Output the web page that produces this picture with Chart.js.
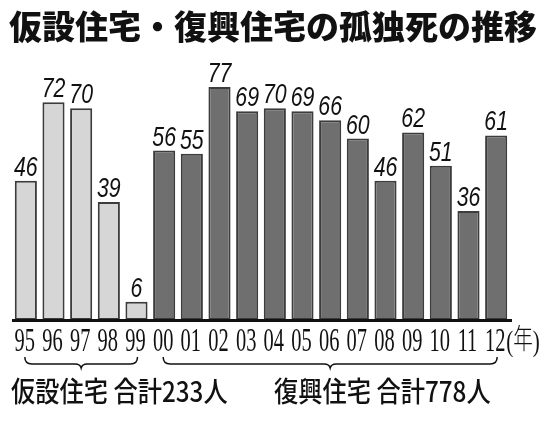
<!DOCTYPE html>
<html lang="ja">
<head>
<meta charset="utf-8">
<script src="https://cdn.jsdelivr.net/npm/chart.js@4.4.1/dist/chart.umd.min.js"></script>
<style>
  html, body { margin: 0; padding: 0; background: #ffffff; }
  #wrap { width: 550px; height: 433px; position: relative; }
</style>
</head>
<body>
<div id="wrap"><canvas id="chart"></canvas></div>
<script>
  const years = ["95", "96", "97", "98", "99", "00", "01", "02", "03", "04", "05", "06", "07", "08", "09", "10", "11", "12"];
  const deaths = [46, 72, 70, 39, 6, 56, 55, 77, 69, 70, 69, 66, 60, 46, 62, 51, 36, 61];
  const groupNames = ["仮設住宅 合計233人", "復興住宅 合計778人"];
  const groupRanges = [[0, 4], [5, 17]];
  const titleText = "仮設住宅・復興住宅の孤独死の推移";
  const yearUnit = ["(", "年", ")"];

  const COLORS = {
    light: "#d6d6d6",
    dark: "#6f6f6f",
    edge: "#3c3c3c",
    ink: "#111111",
  };

  function barColor(i) {
    return i <= groupRanges[0][1] ? COLORS.light : COLORS.dark;
  }

  function drawBrace(ctx, x1, x2, top) {
    const mid = (x1 + x2) / 2;
    const low = top + 7;
    const tip = top + 11;
    ctx.beginPath();
    ctx.moveTo(x1, top);
    ctx.quadraticCurveTo(x1, low, x1 + 7, low);
    ctx.lineTo(mid - 6, low);
    ctx.quadraticCurveTo(mid - 1, low, mid, tip);
    ctx.quadraticCurveTo(mid + 1, low, mid + 6, low);
    ctx.lineTo(x2 - 7, low);
    ctx.quadraticCurveTo(x2, low, x2, top);
    ctx.stroke();
  }

  const decorations = {
    id: "decorations",
    afterDatasetsDraw(chart) {
      const { ctx, chartArea, scales } = chart;
      const x = scales.x;
      const y = scales.y;
      ctx.save();

      // baseline
      ctx.strokeStyle = COLORS.ink;
      ctx.lineWidth = 3;
      ctx.beginPath();
      ctx.moveTo(chartArea.left, chartArea.bottom + 0.5);
      ctx.lineTo(chartArea.right + 2, chartArea.bottom + 0.5);
      ctx.stroke();

      // value labels
      ctx.fillStyle = COLORS.ink;
      ctx.textAlign = "center";
      ctx.textBaseline = "alphabetic";
      ctx.font = "italic 28px 'Liberation Sans', Arial, sans-serif";
      deaths.forEach((v, i) => {
        ctx.save();
        ctx.translate(x.getPixelForValue(i), y.getPixelForValue(v) - 5);
        ctx.scale(0.76, 1);
        ctx.fillText(String(v), 0, 0);
        ctx.restore();
      });

      // year labels
      ctx.font = "33px 'Liberation Serif', 'DejaVu Serif', serif";
      years.forEach((label, i) => {
        ctx.save();
        ctx.translate(x.getPixelForValue(i) - 1, chartArea.bottom + 31);
        ctx.scale(0.62, 1);
        ctx.fillText(label, 0, 0);
        ctx.restore();
      });
      ctx.save();
      ctx.textAlign = "left";
      ctx.translate(x.getPixelForValue(years.length - 1) + 10, chartArea.bottom + 31);
      ctx.scale(0.7, 1);
      ctx.font = "30px 'Liberation Serif', serif";
      ctx.fillText(yearUnit[0], 0, 0);
      const pw = ctx.measureText(yearUnit[0]).width;
      ctx.font = "300 28px 'Noto Sans CJK JP', sans-serif";
      ctx.fillText(yearUnit[1], pw, -2);
      const nw = ctx.measureText(yearUnit[1]).width;
      ctx.font = "30px 'Liberation Serif', serif";
      ctx.fillText(yearUnit[2], pw + nw, 0);
      ctx.restore();

      // braces and group names
      ctx.strokeStyle = COLORS.ink;
      ctx.lineWidth = 1.5;
      groupRanges.forEach(([a, b]) => {
        drawBrace(ctx, x.getPixelForValue(a) - 1, x.getPixelForValue(b) + 1, chartArea.bottom + 37);
      });
      ctx.textAlign = "left";
      ctx.textBaseline = "middle";
      ctx.font = "500 25px 'Noto Sans CJK JP', sans-serif";
      [11, 274].forEach((left, g) => {
        ctx.save();
        ctx.translate(left, chartArea.bottom + 71);
        ctx.scale(0.97, 1.12);
        ctx.fillText(groupNames[g], 0, 0);
        ctx.restore();
      });

      // title
      ctx.font = "900 33px 'Noto Sans CJK JP', sans-serif";
      ctx.fillText(titleText, 9, 26);

      ctx.restore();
    },
  };

  new Chart(document.getElementById("chart").getContext("2d"), {
    type: "bar",
    data: {
      labels: years,
      datasets: [
        {
          data: deaths,
          backgroundColor: deaths.map((v, i) => barColor(i)),
          borderColor: COLORS.edge,
          borderWidth: 2,
          borderSkipped: false,
          categoryPercentage: 1,
          barPercentage: 0.8,
        },
      ],
    },
    options: {
      responsive: true,
      maintainAspectRatio: false,
      animation: false,
      layout: { padding: { left: 12, right: 40, top: 78, bottom: 113 } },
      plugins: {
        legend: { display: false },
        tooltip: { enabled: false },
      },
      scales: {
        x: { display: false },
        y: { display: false, min: 0, max: 80 },
      },
    },
    plugins: [decorations],
  });
</script>
</body>
</html>
